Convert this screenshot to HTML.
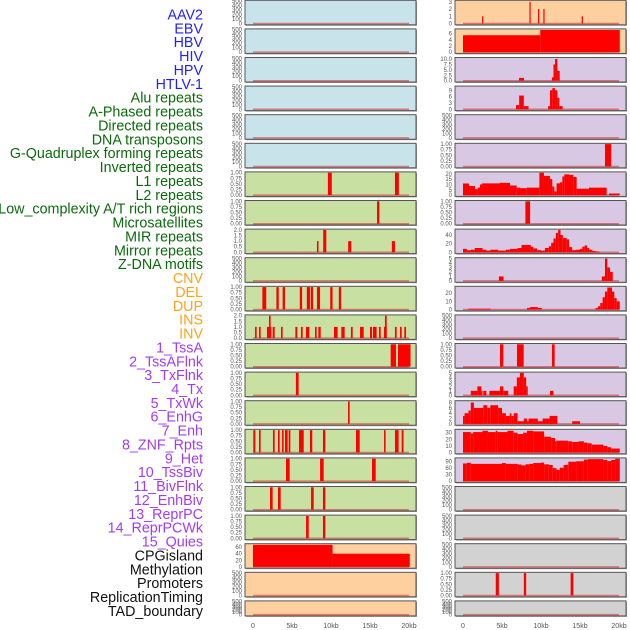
<!DOCTYPE html>
<html><head><meta charset="utf-8">
<style>
body{margin:0;background:#fff;width:630px;height:630px;overflow:hidden}
svg{display:block;font-family:"Liberation Sans",sans-serif}
</style></head>
<body>
<svg id="chart" width="630" height="630" viewBox="0 0 630 630" xmlns="http://www.w3.org/2000/svg">
<g id="labels"></g>
<g id="panels"></g>
<g id="xaxis"></g>
</svg>
<script>
const labelNames = ["AAV2","EBV","HBV","HIV","HPV","HTLV-1","Alu repeats","A-Phased repeats","Directed repeats","DNA transposons","G-Quadruplex forming repeats","Inverted repeats","L1 repeats","L2 repeats","Low_complexity A/T rich regions","Microsatellites","MIR repeats","Mirror repeats","Z-DNA motifs","CNV","DEL","DUP","INS","INV","1_TssA","2_TssAFlnk","3_TxFlnk","4_Tx","5_TxWk","6_EnhG","7_Enh","8_ZNF_Rpts","9_Het","10_TssBiv","11_BivFlnk","12_EnhBiv","13_ReprPC","14_ReprPCWk","15_Quies","CPGisland","Methylation","Promoters","ReplicationTiming","TAD_boundary"];
const labelGroups = ["v","v","v","v","v","v","r","r","r","r","r","r","r","r","r","r","r","r","r","s","s","s","s","s","c","c","c","c","c","c","c","c","c","c","c","c","c","c","c","o","o","o","o","o"];

const t500 = ["0","100","200","300","400","500"];
const t1 = ["0.00","0.25","0.50","0.75","1.00"];
const t2 = ["0.0","0.5","1.0","1.5","2.0"];

const L07 = [[9.6,10.1,1],[18.2,18.7,1]];
const L08 = [[15.9,16.2,1]];
const L09 = [[8.2,8.4,1],[9.0,9.4,2],[12.2,12.6,1],[17.8,18.2,1]];
const L11 = [[1.2,1.7,1],[3.0,3.3,1],[3.8,4.1,1],[6.0,6.3,1],[6.9,7.3,1],[7.4,7.7,1],[8.2,8.6,1],[9.9,10.2,1],[11.0,11.3,1]];
const L12 = [[0.26,0.47,1],[0.77,0.98,1],[1.79,2.35,1],[2.05,2.26,2],[2.52,2.78,1],[3.59,3.8,1],[5.43,5.68,1],[6.15,6.37,1],[6.79,7.22,1],[7.95,8.16,1],[8.38,8.68,1],[10.38,10.85,1],[11.32,11.75,1],[12.56,12.78,1],[13.72,14.19,1],[15.0,15.26,1],[15.38,15.85,1],[16.15,16.37,1],[16.79,17.14,1],[16.92,17.14,2],[18.2,18.42,1],[18.85,19.06,1],[19.4,19.62,1]];
const L13 = [[17.65,18.33,1],[18.59,20.2,1]];
const L14 = [[5.5,5.85,1]];
const L15 = [[12.18,12.39,1]];
const L16 = [[0.04,0.3,1],[0.77,0.98,1],[2.56,2.78,1],[3.2,3.42,1],[3.72,3.93,1],[4.1,4.44,1],[4.57,4.79,1],[5.9,6.5,1],[7.3,7.6,1],[8.97,9.27,1],[13.2,13.68,1],[16.8,17.0,1],[18.2,18.67,1],[19.06,19.3,1]];
const L17 = [[4.23,4.7,1],[8.6,9.06,1],[15.26,15.73,1]];
const L18 = [[2.18,2.52,1],[3.2,3.55,1],[7.44,7.78,1],[8.97,9.27,1]];
const L19 = [[6.8,7.14,1],[8.97,9.27,1]];
const L20 = [[0,10.2,67],[10.2,20.1,40]];

const R01 = [[2.45,2.6,1],[8.52,8.67,3],[9.62,9.78,2],[10.3,10.46,2],[15.22,15.38,1]];
const R02 = [[0,9.9,5.5],[9.9,20.1,7.2]];
const R03 = [[7.18,7.82,1.3],[11.4,11.6,1.5],[11.6,11.8,7.5],[11.8,12.1,10],[12.1,12.4,4.5]];
const R04 = [[6.8,7.2,2],[7.2,7.8,6.5],[7.8,8.4,1.5],[10.9,11.15,1.5],[11.15,11.45,9],[11.45,11.8,10],[11.8,12.1,9],[12.1,12.35,5.5],[12.35,12.78,1.5]];
const R06 = [[18.2,19.0,1]];
const R07 = [[0,0.77,10.9],[0.77,1.54,8.5],[1.54,1.88,5.6],[1.88,2.18,7],[2.18,2.44,10],[2.44,4.74,11],[4.74,6.03,11.5],[6.03,6.88,9],[6.88,7.31,7],[7.31,8.16,6.5],[8.16,9.79,7],[9.79,10.38,21],[10.38,11.15,18],[11.15,11.45,15],[11.45,11.71,8],[11.71,12.0,3.5],[12.0,12.44,11],[12.44,12.74,12],[12.74,12.99,17.5],[12.99,13.59,19.5],[13.59,14.15,19],[14.15,14.57,17],[14.57,16.15,6],[16.15,18.42,7],[18.72,20.1,1.5]];
const R08 = [[8.0,8.6,1]];
const R09 = [[0,0.5,8],[0.5,1,5],[1,1.5,6],[1.5,2.5,10],[2.5,3,6],[3,3.5,4],[3.5,4.5,6],[4.5,5.5,4],[5.5,6,6],[6,7,8],[7,7.5,10],[7.5,8.7,17],[8.7,9,13],[9,9.5,9],[9.5,10,5],[10,10.5,4],[10.5,11,10],[11,11.3,14],[11.3,11.6,22],[11.6,11.9,32],[11.9,12.2,45],[12.2,12.5,52],[12.5,12.8,40],[12.8,13.3,33],[13.3,13.6,30],[13.6,14,12],[14,14.5,5],[14.5,15,6],[15,15.3,8],[15.3,15.6,13],[15.6,15.9,16],[15.9,16.2,10],[16.2,16.6,6],[16.6,17,3],[17,17.5,2]];
const R10 = [[4.6,5.2,1],[17.8,18.2,1],[18.2,18.5,5],[18.5,18.85,3],[18.85,19.2,2]];
const R11 = [[0.68,3.55,1],[8.2,8.6,2],[8.6,9.6,3],[9.6,10.1,2],[17,17.3,2],[17.3,17.6,4],[17.6,17.9,8],[17.9,18.2,15],[18.2,18.5,22],[18.5,19.1,27],[19.1,19.4,22],[19.4,19.7,14],[19.7,20.1,10]];
const R13 = [[4.74,5.17,1],[6.92,7.78,1],[11.4,11.75,1]];
const R14 = [[1.0,1.84,1],[1.84,2.35,2],[2.35,2.5,1],[2.6,3.0,1],[3.38,4.74,1],[4.74,5.17,2],[5.17,5.8,1],[6.5,6.9,2],[6.9,7.3,4],[7.3,7.8,5],[7.8,8.1,4],[8.1,8.3,2],[11.15,11.6,1]];
const R15 = [[0,0.2,3],[0.2,0.7,4],[0.7,1,5],[1,1.4,8],[1.4,2.6,6],[2.6,3.1,7],[3.1,3.5,6],[3.5,4.5,7],[4.5,5,6],[5,5.5,4],[5.5,6,3],[6,6.2,4],[6.2,6.5,3],[6.5,7,4],[7,7.8,1],[7.8,8.2,2],[8.2,8.4,1],[8.4,9.6,2],[9.6,10.2,1],[10.2,11.1,2],[11.1,12.1,3],[14,15,1]];
const R16 = [[0,1,31],[1,1.3,29],[1.3,2.5,31],[2.5,3.2,33],[3.2,4.2,31],[4.2,4.4,33],[4.4,5.7,31],[5.7,6.5,33],[6.5,7,30],[7,7.7,28],[7.7,8.2,30],[8.2,9,33],[9,10.4,32],[10.4,11.3,24],[11.3,11.8,22],[11.8,12,17],[12,13.5,18],[13.5,14,17],[14,14.8,16],[14.8,15.5,17],[15.5,16,15],[16,16.5,14],[16.5,18,12],[18,18.5,10],[18.5,19,8],[19,20.1,6]];
const R17 = [[0,0.5,82],[0.5,1,85],[1,5,80],[5,5.5,84],[5.5,7,80],[7,7.5,77],[7.5,8,73],[8,8.5,78],[8.5,9,80],[9,10,84],[10,10.4,86],[10.4,11,78],[11,11.5,75],[11.5,12,60],[12,12.4,52],[12.4,12.9,62],[12.9,13.5,75],[13.5,14.5,90],[14.5,15.5,92],[15.5,16,100],[16,18,102],[18,18.5,98],[18.5,19,93],[19,19.5,98],[19.5,20.1,104]];
const R21 = [[4.2,4.6,1],[7.8,8.1,1],[13.8,14.15,1]];

const xTickKb = [0,5,10,15,20];
const xTickLabels = ["0","5kb","10kb","15kb","20kb"];

const COL = {blue:"#c9e3ea",green:"#c9e0a3",purple:"#d9c8e3",orange:"#fecf9f",gray:"#d2d2d2"};
const GROUPCOL = {v:"#1f1fff",r:"#0b6a0b",s:"#ffa31a",c:"#a23cf0",o:"#111"};

const panels = [
 [0,0,"blue",500,t500,null,[]],[0,1,"blue",500,t500,null,[]],[0,2,"blue",500,t500,null,[]],
 [0,3,"blue",500,t500,null,[]],[0,4,"blue",500,t500,null,[]],[0,5,"blue",500,t500,null,[]],
 [0,6,"green",1,t1,null,L07],[0,7,"green",1,t1,null,L08],[0,8,"green",2,t2,null,L09],
 [0,9,"green",500,t500,null,[]],[0,10,"green",1,t1,null,L11],[0,11,"green",2,t2,null,L12],
 [0,12,"green",1,t1,null,L13],[0,13,"green",1,t1,null,L14],[0,14,"green",1,t1,null,L15],
 [0,15,"green",1,t1,null,L16],[0,16,"green",1,t1,null,L17],[0,17,"green",1,t1,null,L18],
 [0,18,"green",1,t1,null,L19],[0,19,"orange",68,["0","20","40","60"],null,L20],
 [0,20,"orange",500,t500,null,[]],[0,21,"orange",500,t500,null,[]],
 [1,0,"orange",3.1,["0","1","2","3"],null,R01],[1,1,"orange",7.3,["0","2","4","6"],null,R02],
 [1,2,"purple",10.3,["0.0","2.5","5.0","7.5","10.0"],null,R03],[1,3,"purple",10.6,["0","3","6","9"],null,R04],
 [1,4,"purple",500,t500,null,[]],[1,5,"purple",1,t1,null,R06],
 [1,6,"purple",21,["0","5","10","15","20"],null,R07],[1,7,"purple",1,t1,null,R08],
 [1,8,"purple",52,["0","20","40"],null,R09],[1,9,"purple",5,["0","1","2","3","4","5"],null,R10],
 [1,10,"purple",27.5,["0","10","20"],null,R11],[1,11,"purple",500,t500,null,[]],
 [1,12,"purple",1,t1,null,R13],[1,13,"purple",5,["0","1","2","3","4","5"],null,R14],
 [1,14,"purple",8.4,["0","2","4","6","8"],null,R15],[1,15,"purple",34,["0","10","20","30"],null,R16],
 [1,16,"purple",104,["0","30","60","90"],null,R17],[1,17,"gray",500,t500,null,[]],
 [1,18,"gray",500,t500,null,[]],[1,19,"gray",500,t500,null,[]],
 [1,20,"gray",1,t1,null,R21],[1,21,"gray",500,t500,null,[]]
];

const NS="http://www.w3.org/2000/svg";
function mk(tag,attrs,parent){const e=document.createElementNS(NS,tag);for(const k in attrs)e.setAttribute(k,attrs[k]);parent.appendChild(e);return e;}
const colX=[245,455], colW=171, base=[253,463], PXKB=7.8;
function xs(c,kb){return base[c]+kb*PXKB;}

const lg=document.getElementById("labels");
labelNames.forEach((n,i)=>{
  const t=mk("text",{x:203,y:19.5+i*13.87,"text-anchor":"end","font-size":"14.3",fill:GROUPCOL[labelGroups[i]]},lg);
  
  
  t.textContent=n;
});

const pg=document.getElementById("panels");
panels.forEach(p=>{
  const [c,r,colr,ymax,ticks,_,bars]=p;
  const T=r*28.6+0.3, H=(r===21)?15:24.5;
  const g=mk("g",{},pg);
  
  
  const x0=colX[c];
  mk("rect",{x:x0+1,y:T+1,width:colW,height:H,fill:"#9a9a9a"},g);
  const bg=mk("rect",{x:x0,y:T,width:colW,height:H,fill:COL[colr],stroke:"#555","stroke-width":1},g);
  
  
  const yb=T+H-1.3, yt=T+0.8;
  function ys(v){return yb-(v/ymax)*(yb-yt);}
  const n=ticks.length;
  ticks.forEach((lab,i)=>{
    const v=Number(lab);
    const ty = (ymax===500 && r===21)? yb-(i/(n-1))*(yb-yt) : ys(v);
    const tt=mk("text",{x:x0-3,y:ty+2,"text-anchor":"end","font-size":"6",fill:"#555"},g);
    
    
    tt.textContent=lab;
  });
  mk("line",{x1:xs(c,0),x2:xs(c,20),y1:yb,y2:yb,stroke:"rgba(210,40,40,0.55)","stroke-width":1.5},g);
  bars.forEach(b=>{
    const xa=Math.max(xs(c,b[0]),x0+0.5), xb=Math.min(xs(c,b[1]),x0+colW-0.5);
    const y=ys(b[2]);
    const br=mk("rect",{x:xa,y:Math.max(y,T+0.5),width:Math.max(xb-xa,1.2),height:yb-Math.max(y,T+0.5),fill:"#ff0000"},g);
    
    
  });
});

const xg=document.getElementById("xaxis");
[0,1].forEach(c=>{
  xTickKb.forEach((k,i)=>{
    const t=mk("text",{x:xs(c,k),y:628,"text-anchor":"middle","font-size":"7",fill:"#555"},xg);
    
    
    t.textContent=xTickLabels[i];
  });
});
</script>
</body></html>
